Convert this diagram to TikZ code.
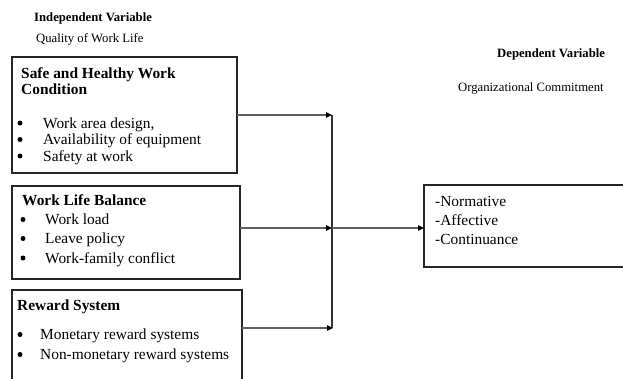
\documentclass[tikz,border=0pt]{standalone}
\usepackage{fontspec}
\setmainfont{Liberation Serif}
\usetikzlibrary{arrows.meta}
\definecolor{linegray}{RGB}{95,95,95}
\begin{document}
\begin{tikzpicture}[x=1pt,y=-1pt,
  boxframe/.style={draw=black!85,line width=1.1pt},
  big/.style={inner sep=0pt,anchor=base west,font=\fontsize{15.4}{18}\selectfont},
  bigb/.style={big,font=\fontsize{15.4}{18}\selectfont\bfseries},
  small/.style={inner sep=0pt,anchor=base west,font=\fontsize{12.7}{15}\selectfont},
  smallb/.style={small,font=\fontsize{12.7}{15}\selectfont\bfseries},
  bul/.style={circle,fill=black,inner sep=0pt,minimum size=5pt,yshift=5pt},
  arr/.style={draw=linegray,line width=1.3pt,-{Triangle[length=6pt,width=5.5pt,fill=black,color=black]}},
  conn/.style={draw=black!80,line width=1.2pt}]
\useasboundingbox (0,0) rectangle (623,378);
\clip (0,0) rectangle (623,378);
% headers
\node[smallb] (ivh) at (34,21.5) {Independent Variable};
\node[small] (ivs) at (36,42.5) {Quality of Work Life};
\node[smallb] (dvh) at (497,57) {Dependent Variable};
\node[small] (dvs) at (458,91) {Organizational Commitment};
% boxes
\draw[boxframe] (12,57) rectangle (237,173);
\coordinate (b1e) at (237,115);
\draw[boxframe] (12,186) rectangle (240,279);
\coordinate (b2e) at (240,228);
\draw[boxframe] (12,290) rectangle (242,400);
\coordinate (b3e) at (242,328);
\draw[boxframe] (424,185) rectangle (640,267);
\coordinate (outw) at (424,228);
% box 1 text
\node[bigb] (t1a) at (21,78.5) {Safe and Healthy Work};
\node[bigb] (t1b) at (21,94.5) {Condition};
\node[bul] (u1a) at (20,128) {};
\node[big] (i1a) at (43,128) {Work area design,};
\node[bul] (u1b) at (20,144.5) {};
\node[big] (i1b) at (43,144.5) {Availability of equipment};
\node[bul] (u1c) at (20,161) {};
\node[big] (i1c) at (43,161) {Safety at work};
% box 2 text
\node[bigb] (t2a) at (22,205) {Work Life Balance};
\node[bul] (u2a) at (23,224.5) {};
\node[big] (i2a) at (45,224.5) {Work load};
\node[bul] (u2b) at (23,243.5) {};
\node[big] (i2b) at (45,243.5) {Leave policy};
\node[bul] (u2c) at (23,263) {};
\node[big] (i2c) at (45,263) {Work-family conflict};
% box 3 text
\node[bigb] (t3a) at (17,310) {Reward System};
\node[bul] (u3a) at (20,339.5) {};
\node[big] (i3a) at (40,339.5) {Monetary reward systems};
\node[bul] (u3b) at (20,359.5) {};
\node[big] (i3b) at (40,359.5) {Non-monetary reward systems};
% right box text
\node[big] (r1) at (435,206) {-Normative};
\node[big] (r2) at (435,225) {-Affective};
\node[big] (r3) at (435,244) {-Continuance};
% connectors
\coordinate (j1) at (332,115);
\coordinate (j2) at (332,228);
\coordinate (j3) at (333,328);
\draw[conn] (j1) -- (332,328);
\draw[arr] (b1e) -- (j1);
\draw[arr] (b2e) -- (j2);
\draw[arr] (b3e) -- (j3);
\draw[arr] (j2) -- (outw);
\end{tikzpicture}
\end{document}
